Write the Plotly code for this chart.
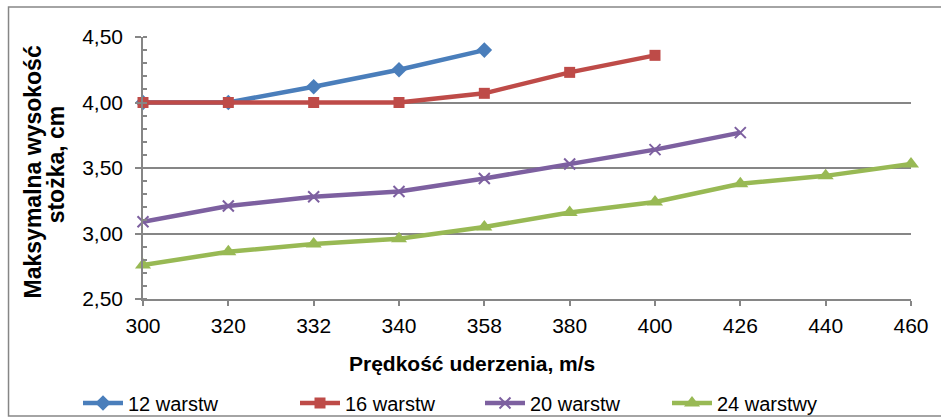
import plotly.graph_objects as go

categories = ["300", "320", "332", "340", "358", "380", "400", "426", "440", "460"]
s12 = [4.00, 4.00, 4.12, 4.25, 4.40]
s16 = [4.00, 4.00, 4.00, 4.00, 4.07, 4.23, 4.36]
s20 = [3.09, 3.21, 3.28, 3.32, 3.42, 3.53, 3.64, 3.77]
s24 = [2.76, 2.86, 2.92, 2.96, 3.05, 3.16, 3.24, 3.38, 3.44, 3.53]
names = ["12 warstw", "16 warstw", "20 warstw", "24 warstwy"]

L, R, T, B = 143, 914, 37, 299
FW, FH = 941, 418
W, H = R - L, B - T
def px(p): return (p - L) / W
def py(p): return (B - p) / H

FONT = "Liberation Sans, Arial, sans-serif"
GRID = "#868686"

fig = go.Figure()
styles = [
    (s12, "#4A7EBB", dict(symbol="diamond", size=12)),
    (s16, "#BE4B48", dict(symbol="square", size=11)),
    (s20, "#7D60A0", dict(symbol="x-thin", size=11, line=dict(width=2, color="#7D60A0"))),
    (s24, "#98B954", dict(symbol="triangle-up", size=14)),
]
legend_ids = ["legend", "legend2", "legend3", "legend4"]
legend_text_x = [128, 345, 530, 717]
for (vals, col, mk), nm, lid in zip(styles, names, legend_ids):
    fig.add_trace(go.Scatter(
        x=categories[:len(vals)], y=vals, name=nm, mode="lines+markers",
        line=dict(color=col, width=4.5), marker=dict(color=col, **mk),
        cliponaxis=False, legend=lid,
    ))

leg_common = dict(orientation="h", xref="container", yref="container",
                  xanchor="left", yanchor="middle", y=1 - 403 / FH,
                  font=dict(size=20), itemwidth=40, bgcolor="rgba(0,0,0,0)")
legends = {}
for lid, tx in zip(legend_ids, legend_text_x):
    legends[lid] = dict(leg_common, x=(tx - 50) / FW)

fig.update_layout(
    width=FW, height=FH,
    margin=dict(l=L, r=FW - R, t=T, b=FH - B),
    paper_bgcolor="white", plot_bgcolor="white",
    separators=", ",
    font=dict(family=FONT, size=20, color="black"),
    showlegend=True,
    xaxis=dict(type="category", range=[0, 9], showgrid=False,
               showline=True, linecolor=GRID, linewidth=1.5,
               ticks="outside", ticklen=5, tickcolor=GRID, tickwidth=1.5,
               ticklabelstandoff=2,
               tickfont=dict(size=21), fixedrange=True),
    yaxis=dict(range=[2.5, 4.5], dtick=0.5, tick0=2.5, tickformat=".2f",
               showgrid=True, gridcolor=GRID, gridwidth=1.5,
               showline=True, linecolor=GRID, linewidth=1.5,
               ticks="outside", ticklen=6, tickcolor=GRID, tickwidth=1.5,
               ticklabelstandoff=8,
               minor=dict(dtick=0.1, ticks="inside", ticklen=4, tickcolor=GRID, tickwidth=1.5, showgrid=False),
               tickfont=dict(size=21), zeroline=False),
    shapes=[dict(type="rect", xref="paper", yref="paper",
                 x0=px(8), x1=px(960), y0=py(416), y1=py(7),
                 line=dict(color=GRID, width=1.5), layer="below")],
    annotations=[
        dict(text="<b>Prędkość uderzenia, m/s</b>", xref="paper", yref="paper",
             x=px(473), y=py(363), xanchor="center", yanchor="middle",
             showarrow=False, font=dict(size=21)),
        dict(text="<b>Maksymalna wysokość</b>", xref="paper", yref="paper",
             x=px(33), y=py(172), xanchor="center", yanchor="middle", textangle=-90,
             showarrow=False, font=dict(size=23)),
        dict(text="<b>stożka, cm</b>", xref="paper", yref="paper",
             x=px(56), y=py(164), xanchor="center", yanchor="middle", textangle=-90,
             showarrow=False, font=dict(size=23)),
    ],
    **legends,
)

fig.write_html("out.html")
